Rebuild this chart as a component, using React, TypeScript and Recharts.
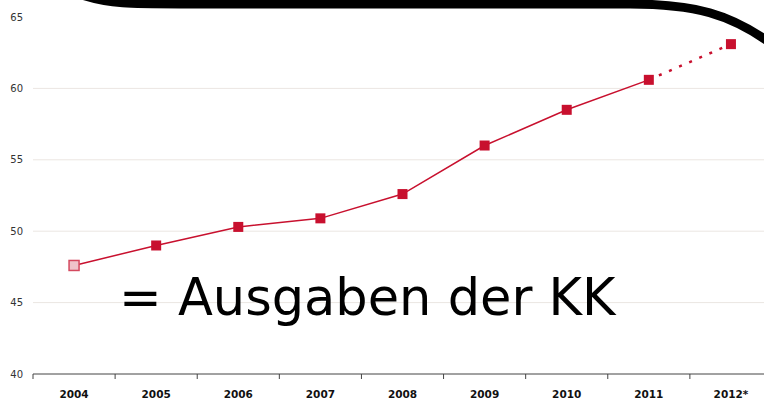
import React from "react";
import {
  LineChart,
  Line,
  XAxis,
  YAxis,
  ReferenceLine,
} from "recharts";

const years = ["2004", "2005", "2006", "2007", "2008", "2009", "2010", "2011", "2012*"];
const actual = [47.6, 49.0, 50.3, 50.9, 52.6, 56.0, 58.5, 60.6, null];
const projected = [null, null, null, null, null, null, null, 60.6, 63.1];
const yTicks = [40, 45, 50, 55, 60, 65];
const gridValues = [45, 50, 55, 60];

const RED = "#c8102e";

const CHART_W = 780;
const CHART_H = 401;
const PLOT_LEFT = 33;
const PLOT_RIGHT = 8;
const STEP = (CHART_W - PLOT_LEFT - PLOT_RIGHT) / years.length;

const data = years.map((year, i) => ({
  year,
  actual: actual[i],
  projected: projected[i],
}));

const SquareDot = (props: any) => {
  const { cx, cy, index, value } = props;
  if (value == null || cx == null || cy == null) return null;
  const first = index === 0;
  return (
    <rect
      key={`d-${index}`}
      x={cx - 5}
      y={cy - 5}
      width={10}
      height={10}
      fill={first ? "#efc4cb" : RED}
      stroke={first ? "#d4495f" : RED}
      strokeWidth={first ? 1.5 : 0}
    />
  );
};

const ProjDot = (props: any) => {
  const { index } = props;
  if (index !== years.length - 1) return null;
  return <SquareDot {...props} />;
};

const XTick = (props: any) => {
  const { x, y, payload } = props;
  return (
    <g>
      <line x1={x - STEP / 2} y1={y - 2} x2={x - STEP / 2} y2={y + 3} stroke="#444" strokeWidth={1} />
      <text
        x={x}
        y={y + 22}
        textAnchor="middle"
        fontSize={10.5}
        fontWeight="bold"
        fill="#111"
        fontFamily="DejaVu Sans, Verdana, sans-serif"
      >
        {payload.value}
      </text>
    </g>
  );
};

export default function App() {
  return (
    <div
      style={{
        position: "fixed",
        left: 0,
        top: 0,
        width: 764,
        height: 401,
        overflow: "hidden",
        background: "#fff",
        fontFamily: "DejaVu Sans, Verdana, sans-serif",
      }}
    >
      <LineChart
        width={CHART_W}
        height={CHART_H}
        data={data}
        margin={{ top: 17, right: PLOT_RIGHT, left: 0, bottom: 0 }}
      >
        {gridValues.map((v) => (
          <ReferenceLine key={v} y={v} stroke="#ebe6e2" strokeWidth={1} />
        ))}
        <XAxis
          dataKey="year"
          height={27}
          padding={{ left: STEP / 2, right: STEP / 2 }}
          axisLine={{ stroke: "#444", strokeWidth: 1 }}
          tickLine={false}
          tickSize={0}
          tick={<XTick />}
          interval={0}
        />
        <YAxis
          domain={[40, 65]}
          ticks={yTicks}
          width={PLOT_LEFT}
          axisLine={false}
          tickLine={false}
          tickSize={0}
          tickMargin={10}
          tick={{ fontSize: 10, fill: "#333", fontFamily: "DejaVu Sans, Verdana, sans-serif" }}
        />
        <Line
          dataKey="actual"
          stroke={RED}
          strokeWidth={1.5}
          dot={<SquareDot />}
          activeDot={false}
          isAnimationActive={false}
          connectNulls={false}
        />
        <Line
          dataKey="projected"
          stroke={RED}
          strokeWidth={2.5}
          strokeDasharray="3 8"
          dot={<ProjDot />}
          activeDot={false}
          isAnimationActive={false}
          connectNulls={false}
        />
      </LineChart>
      <div
        style={{
          position: "absolute",
          left: 119,
          top: 268,
          fontSize: 51,
          lineHeight: "60px",
          color: "#000",
          fontFamily: "DejaVu Sans, sans-serif",
          whiteSpace: "nowrap",
        }}
      >
        = Ausgaben der KK
      </div>
      <svg
        width={764}
        height={401}
        style={{ position: "absolute", left: 0, top: 0, pointerEvents: "none" }}
      >
        <path
          d="M 82 -5 C 110 4, 130 4, 180 4 L 630 4 C 695 4, 730 14, 772 44"
          fill="none"
          stroke="#000"
          strokeWidth={9}
        />
      </svg>
    </div>
  );
}
